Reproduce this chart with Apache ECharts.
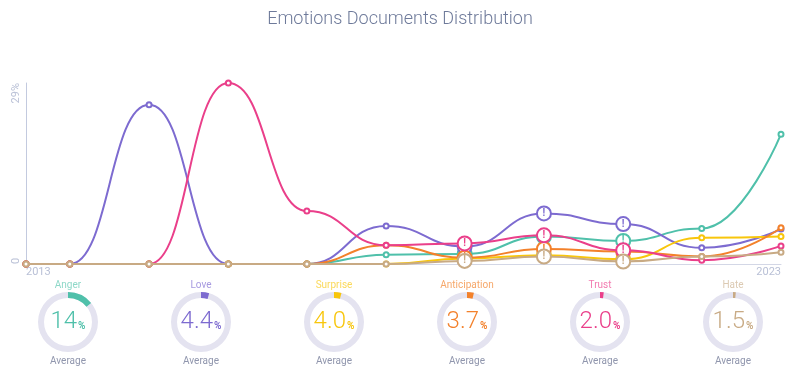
<!DOCTYPE html>
<html><head><meta charset="utf-8">
<script src="https://cdn.jsdelivr.net/npm/echarts@6/dist/echarts.min.js"></script>
<style>html,body{margin:0;padding:0;background:#fff}#c{width:800px;height:379px}</style>
</head><body><div id="c"></div>
<script>
var years = [2013, 2013.58, 2014.63, 2015.68, 2016.72, 2017.77, 2018.81, 2019.86, 2020.91, 2021.95, 2023];
var names = ['Anger', 'Love', 'Surprise', 'Anticipation', 'Trust', 'Hate'];
var colors = ['#4fc0aa', '#7d6bd0', '#f8c60c', '#f3812b', '#ea3f8a', '#c8aa84'];
var titleColors = ['#8ed8c8', '#a79ae0', '#fbd95a', '#f6a769', '#f27bb0', '#dccab3'];
var anger = [0, 0, 0, 0, 0, 1.5, 1.6, 4.4, 3.7, 5.7, 20.8];
var love = [0, 0, 25.5, 0, 0, 6.1, 2.8, 8.1, 6.4, 2.6, 5.6];
var surprise = [0, 0, 0, 0, 0, 0, 0.9, 1.4, 0.75, 4.2, 4.4];
var anticipation = [0, 0, 0, 0, 0, 3.0, 1.0, 2.4, 2.0, 1.2, 5.8];
var trust = [0, 0, 0, 29, 8.5, 3.0, 3.3, 4.6, 2.2, 0.6, 2.9];
var hate = [0, 0, 0, 0, 0, 0, 0.5, 1.2, 0.4, 1.2, 1.9];
var flagged = [6, 7, 8];
var averages = [14, 4.4, 4.0, 3.7, 2.0, 1.5];
var yMax = 29;

var seriesValues = [anger, love, surprise, anticipation, trust, hate];
var chart = echarts.init(document.getElementById('c'));
var font = 'Roboto, sans-serif';

var lineSeries = seriesValues.map(function (vals, si) {
  var col = colors[si];
  return {
    type: 'line', name: names[si], smooth: true, smoothMonotone: 'x',
    symbol: 'emptyCircle', symbolSize: 5,
    lineStyle: { width: 2, color: col },
    itemStyle: { color: col, borderWidth: 1.3 },
    z: 2 + si,
    data: vals.map(function (v, i) {
      var d = { value: [years[i], v] };
      if (flagged.indexOf(i) >= 0) {
        d.symbolSize = 14;
        d.itemStyle = { color: col, borderWidth: 1.6 };
        d.label = { show: true, position: 'inside', formatter: '!', color: col, fontSize: 10, fontWeight: 'bold', fontFamily: font };
      }
      return d;
    })
  };
});

var gaugeSeries = averages.map(function (v, i) {
  return {
    type: 'gauge', center: [68 + i * 133, 322], radius: 30,
    startAngle: 90, endAngle: -270, min: 0, max: 100,
    pointer: { show: false }, axisTick: { show: false }, splitLine: { show: false }, axisLabel: { show: false },
    axisLine: { lineStyle: { width: 6, color: [[1, '#e4e3f0']] } },
    progress: { show: true, width: 6, itemStyle: { color: colors[i] } },
    anchor: { show: false },
    data: [
      { value: v, name: names[i],
        title: { offsetCenter: [0, -37], color: titleColors[i], fontSize: 10, fontFamily: font },
        detail: { offsetCenter: [0, 0], formatter: function (x) { return '{v|' + (x >= 10 ? x.toFixed(0) : x.toFixed(1)) + '}{p|%}'; },
          rich: { v: { fontSize: 24, color: colors[i], fontFamily: font, fontWeight: 300 }, p: { fontSize: 10, color: colors[i], fontFamily: font, padding: [8, 0, 0, 1] } } } },
      { value: 0, name: 'Average',
        title: { offsetCenter: [0, 39], color: '#9096ad', fontSize: 10, fontFamily: font },
        detail: { show: false } }
    ]
  };
});

chart.setOption({
  animation: false,
  title: { text: 'Emotions Documents Distribution', left: 'center', top: 5,
    textStyle: { color: '#6e7a9a', fontSize: 18, fontWeight: 300, fontFamily: font } },
  grid: { left: 26, right: 19, top: 83, bottom: 115 },
  xAxis: { type: 'value', min: 2013, max: 2023, interval: 10,
    axisLine: { lineStyle: { color: '#d3d7e6' } }, axisTick: { show: false }, splitLine: { show: false },
    axisLabel: { color: '#b9c0d6', fontSize: 11, fontFamily: font, margin: 3, alignMinLabel: 'left', alignMaxLabel: 'right',
      formatter: function (v) { return String(v); } } },
  yAxis: { type: 'value', min: 0, max: yMax, interval: yMax,
    axisLine: { show: true, lineStyle: { color: '#c3cadf' } }, axisTick: { show: false }, splitLine: { show: false },
    axisLabel: { color: '#b9c0d6', fontSize: 11, fontFamily: font, rotate: 90, margin: 4,
      alignMinLabel: 'left', alignMaxLabel: 'right',
      formatter: function (v) { return v === 0 ? '0' : v + '%'; } } },
  series: lineSeries.concat(gaugeSeries)
});
</script></body></html>
